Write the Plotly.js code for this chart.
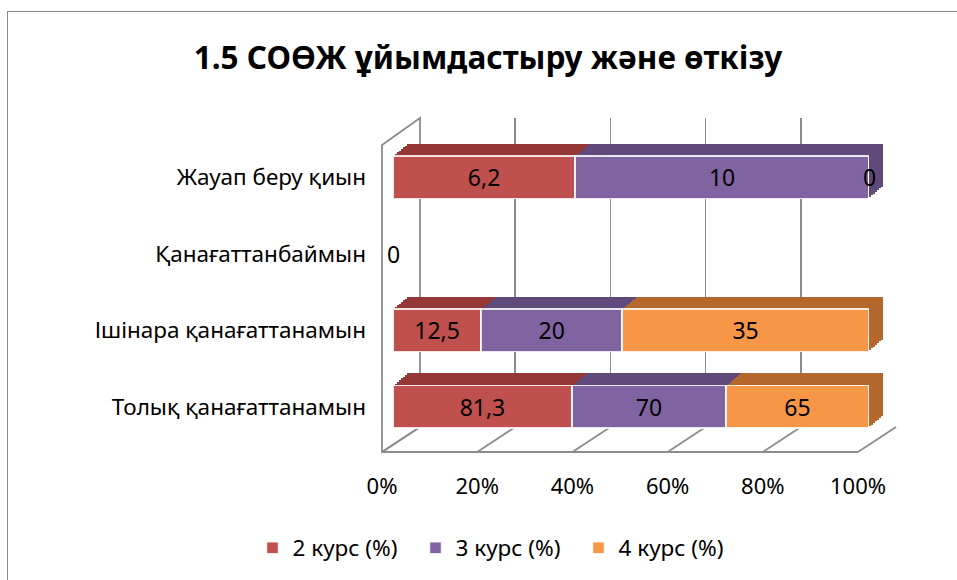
<!DOCTYPE html>
<html><head><meta charset="utf-8">
<script src="https://cdn.plot.ly/plotly-3.0.1.min.js"></script>
<style>
html,body{margin:0;padding:0;background:#fff;}
#wrap{position:relative;width:957px;height:580px;overflow:hidden;}
#chart{width:957px;height:580px;}
#frame{position:absolute;left:7px;top:11px;width:980px;height:620px;border:1.5px solid #8a8a8a;pointer-events:none;}
</style>
</head><body>
<div id="wrap"><div id="chart"></div><div id="frame"></div></div>
<script>
// ---- data ----
const categories = ['Толық қанағаттанамын', 'Ішінара қанағаттанамын', 'Қанағаттанбаймын', 'Жауап беру қиын'];
const seriesNames = ['2 курс (%)', '3 курс (%)', '4 курс (%)'];
const kurs2 = [81.3, 12.5, 0, 6.2];
const kurs3 = [70, 20, 0, 10];
const kurs4 = [65, 35, 0, 0];
const xTickVals = [0, 20, 40, 60, 80, 100];
const xTickText = ['0%', '20%', '40%', '60%', '80%', '100%'];
const titleText = '1.5 СОӨЖ ұйымдастыру және өткізу';

// ---- styles / geometry ----
const frontColors = ['#C0504D', '#8064A2', '#F79646'];
const topColors = ['#953735', '#604A7B', '#B5682D'];
const FONT = 'Noto Sans, Open Sans, DejaVu Sans, sans-serif';
const W = 957, H = 580;
const px = x => x / W;
const py = y => 1 - y / H;
const FRONT = {x0: 393, x1: 869, y0: 139, y1: 445};
const WALL = {x0: 420, x1: 896, y0: 118, y1: 427};
const FLOOR = {fx0: 382, fx1: 858, fy: 452};
const DX = 14, DY = 12, N = 7;

const series = [kurs2, kurs3, kurs4];
const fmt = v => String(v).replace('.', ',');

const traces = [];
const layout = {
  width: W, height: H, autosize: false,
  margin: {l: 0, r: 0, t: 0, b: 0},
  paper_bgcolor: '#ffffff', plot_bgcolor: 'rgba(0,0,0,0)',
  barmode: 'stack', barnorm: 'percent', bargap: 0.44,
  separators: ', ',
  font: {family: FONT, color: '#000000', size: 22},
  title: {text: '<b>' + titleText + '</b>', x: px(488), xanchor: 'center', xref: 'container',
          y: py(58), yanchor: 'middle', yref: 'container',
          font: {family: FONT, size: 31.5, color: '#000000'}},
  showlegend: true,
  legend: {orientation: 'h', x: px(497), xanchor: 'center', y: py(548), yanchor: 'middle',
           font: {family: FONT, size: 22.5, color: '#000000'}, traceorder: 'normal',
           bgcolor: 'rgba(0,0,0,0)', itemwidth: 30, entrywidth: 118, entrywidthmode: 'pixels'},
  shapes: [], annotations: []
};

// back wall axis (gridlines + tick labels)
layout.xaxis = {domain: [px(WALL.x0), px(WALL.x1)], range: [0, 100], anchor: 'y',
  tickvals: xTickVals, ticktext: xTickText, showgrid: true, gridcolor: '#8c8c8c', gridwidth: 1.8,
  zeroline: false, showline: false, ticks: '', fixedrange: true,
  ticklabelshift: -(WALL.x0 - FLOOR.fx0), ticklabelstandoff: 44,
  tickfont: {family: FONT, size: 22, color: '#000000'}};
layout.yaxis = {domain: [py(WALL.y1), py(WALL.y0)], range: [0, 1], anchor: 'x', visible: false, fixedrange: true};
// placeholder trace so the wall subplot is built
traces.push({type: 'scatter', mode: 'markers', x: [null], y: [null], xaxis: 'x', yaxis: 'y',
  showlegend: false, hoverinfo: 'skip'});

function catAxis(idx, shift, showLabels) {
  const dy = shift * DY / DX;
  layout['xaxis' + idx] = {domain: [px(FRONT.x0 + shift), px(FRONT.x1 + shift)], range: [0, 100],
    anchor: 'y' + idx, visible: false, fixedrange: true};
  layout['yaxis' + idx] = {domain: [py(FRONT.y1 - dy), py(FRONT.y0 - dy)], range: [-0.5, 3.5],
    type: 'category', categoryorder: 'array', categoryarray: categories, anchor: 'x' + idx,
    visible: showLabels, showgrid: false, zeroline: false, showline: false, ticks: '',
    ticklabelstandoff: 26, fixedrange: true,
    tickfont: {family: FONT, size: 22.5, color: '#000000'}};
}

// depth copies (drawn first = furthest back)
for (let i = 1; i <= N; i++) {
  const idx = i + 1;
  const shift = DX * (N - i + 1) / N;
  catAxis(idx, shift, false);
  series.forEach((vals, j) => {
    traces.push({type: 'bar', orientation: 'h', y: categories, x: vals,
      xaxis: 'x' + idx, yaxis: 'y' + idx, marker: {color: topColors[j], line: {width: 0}},
      showlegend: false, hoverinfo: 'skip', cliponaxis: false});
  });
}

// front faces
const F = N + 2;
catAxis(F, 0, true);
series.forEach((vals, j) => {
  traces.push({type: 'bar', orientation: 'h', y: categories, x: vals, name: seriesNames[j],
    xaxis: 'x' + F, yaxis: 'y' + F,
    marker: {color: frontColors[j], line: {color: 'rgba(255,255,255,0.85)', width: 1.5}},
    text: vals.map(v => v === 0 ? '' : fmt(v)), textposition: 'inside', insidetextanchor: 'middle',
    textangle: 0, constraintext: 'none', cliponaxis: false,
    textfont: {family: FONT, size: 23, color: '#000000'}});
});

// labels for zero values (placed at their stacked position)
const seen = {};
categories.forEach((c, i) => {
  const total = series.reduce((a, s) => a + s[i], 0);
  let cum = 0;
  series.forEach((s, j) => {
    cum += s[i];
    if (s[i] === 0) {
      const xpos = total > 0 ? cum / total * 100 : 0;
      const key = c + '|' + xpos;
      if (seen[key]) return;
      seen[key] = true;
      layout.annotations.push({xref: 'x' + F, yref: 'y' + F, x: xpos, y: c, text: fmt(s[i]),
        showarrow: false, xanchor: 'center', yanchor: 'middle',
        font: {family: FONT, size: 23, color: '#000000'}});
    }
  });
});

// 3D frame: left wall and floor
const lineStyle = {color: '#8c8c8c', width: 1.8};
layout.shapes.push({type: 'path', xref: 'paper', yref: 'paper', layer: 'below', line: lineStyle,
  path: `M ${px(FLOOR.fx0)} ${py(145)} L ${px(WALL.x0)} ${py(WALL.y0)} L ${px(WALL.x0)} ${py(WALL.y1)} L ${px(FLOOR.fx0)} ${py(FLOOR.fy)} Z`});
layout.shapes.push({type: 'line', xref: 'paper', yref: 'paper', layer: 'below', line: lineStyle,
  x0: px(FLOOR.fx0), y0: py(FLOOR.fy), x1: px(FLOOR.fx1), y1: py(FLOOR.fy)});
xTickVals.forEach(v => {
  const fx = FLOOR.fx0 + v / 100 * (FLOOR.fx1 - FLOOR.fx0);
  const bx = WALL.x0 + v / 100 * (WALL.x1 - WALL.x0);
  layout.shapes.push({type: 'line', xref: 'paper', yref: 'paper', layer: 'below', line: lineStyle,
    x0: px(fx), y0: py(FLOOR.fy), x1: px(bx), y1: py(WALL.y1)});
});

Plotly.newPlot('chart', traces, layout, {displayModeBar: false, staticPlot: true});
</script>
</body></html>
